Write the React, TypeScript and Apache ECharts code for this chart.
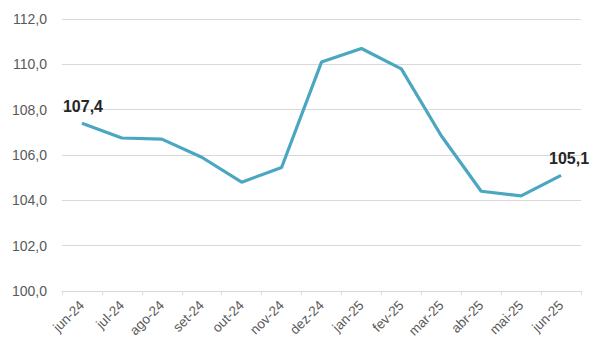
import React, { useEffect, useRef } from "react";
import * as echarts from "echarts";

const categories = ["jun-24", "jul-24", "ago-24", "set-24", "out-24", "nov-24", "dez-24", "jan-25", "fev-25", "mar-25", "abr-25", "mai-25", "jun-25"];
const values = [107.4, 106.75, 106.7, 105.9, 104.8, 105.45, 110.1, 110.7, 109.8, 106.85, 104.4, 104.2, 105.1];

const fmt = (v: number) => v.toFixed(1).replace(".", ",");

export default function App() {
  const ref = useRef<HTMLDivElement>(null);
  useEffect(() => {
    const chart = echarts.init(ref.current!, null, { renderer: "svg" });
    const last = values.length - 1;
    chart.setOption({
      animation: false,
      textStyle: { fontFamily: "Liberation Sans, Arial, sans-serif" },
      grid: { left: 62, right: 19, top: 19, bottom: 70, containLabel: false },
      xAxis: {
        type: "category",
        data: categories,
        boundaryGap: true,
        axisLine: { lineStyle: { color: "#d9d9d9", width: 1 } },
        axisTick: { show: true, length: 4, lineStyle: { color: "#d9d9d9" } },
        axisLabel: { rotate: 45, color: "#595959", fontSize: 13.5, margin: 12 },
      },
      yAxis: {
        type: "value",
        min: 100,
        max: 112,
        interval: 2,
        axisLine: { show: false },
        axisTick: { show: false },
        splitLine: { lineStyle: { color: "#d9d9d9", width: 1 } },
        axisLabel: { color: "#595959", fontSize: 14, margin: 15, formatter: (v: number) => fmt(v) },
      },
      series: [
        {
          type: "line",
          data: values.map((v, i) =>
            i === 0 || i === last
              ? {
                  value: v,
                  label: {
                    show: true,
                    position: "top",
                    distance: 9,
                    offset: i === last ? [8, 0] : [1, 0],
                    formatter: () => fmt(v),
                    fontWeight: "bold",
                    fontSize: 16,
                    color: "#262626",
                  },
                }
              : v
          ),
          symbol: "circle",
          symbolSize: 0,
          showSymbol: true,
          lineStyle: { color: "#4BA7C1", width: 3.2 },
          itemStyle: { color: "#4BA7C1" },
        },
      ],
    });
    return () => chart.dispose();
  }, []);
  return <div ref={ref} style={{ width: 600, height: 361, margin: -8 }} />;
}
